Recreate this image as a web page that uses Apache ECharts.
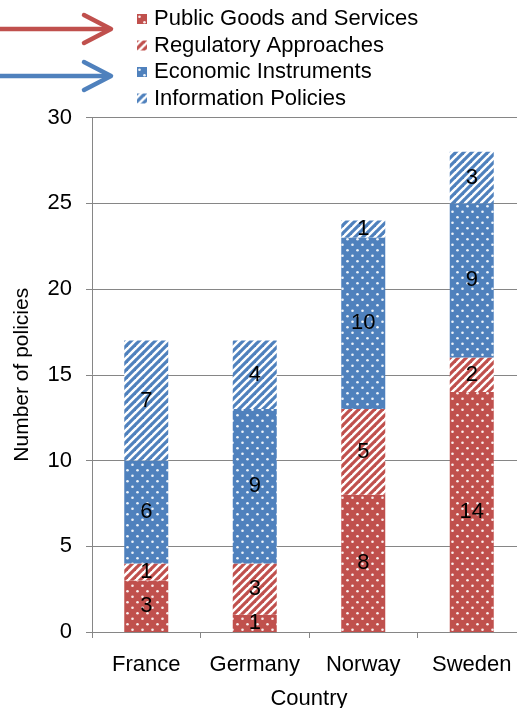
<!DOCTYPE html>
<html><head><meta charset="utf-8">
<script src="https://cdn.jsdelivr.net/npm/echarts@6/dist/echarts.min.js"></script>
<style>html,body{margin:0;padding:0;background:#fff}#c{width:517px;height:708px}</style>
</head><body><div id="c"></div>
<script>
const countries = ['France', 'Germany', 'Norway', 'Sweden'];
const seriesNames = ['Public Goods and Services', 'Regulatory Approaches', 'Economic Instruments', 'Information Policies'];
const publicGoods = [3, 1, 8, 14];
const regulatory = [1, 3, 5, 2];
const economic = [6, 9, 10, 9];
const information = [7, 4, 1, 3];
const yTicks = [0, 5, 10, 15, 20, 25, 30];

const RED = '#C0504D', BLUE = '#4F81BD';
function dots(col) {
  const c = document.createElement('canvas'); c.width = 10; c.height = 11;
  const g = c.getContext('2d');
  g.fillStyle = col; g.fillRect(0, 0, 10, 11);
  g.fillStyle = 'rgba(255,255,255,0.9)';
  [[2.5, 2.75], [7.5, 8.25]].forEach(([x, y]) => { g.beginPath(); g.arc(x, y, 1.3, 0, Math.PI * 2); g.fill(); });
  return { image: c, repeat: 'repeat' };
}
function stripes(col) {
  const c = document.createElement('canvas'); c.width = 8; c.height = 8;
  const g = c.getContext('2d');
  g.fillStyle = '#ffffff'; g.fillRect(0, 0, 8, 8);
  g.strokeStyle = col; g.lineWidth = 3.2; g.lineCap = 'square';
  [[-8, 8, 8, -8], [0, 8, 8, 0], [0, 16, 16, 0]].forEach(([a, b, cc, d]) => {
    g.beginPath(); g.moveTo(a, b); g.lineTo(cc, d); g.stroke();
  });
  return { image: c, repeat: 'repeat' };
}
const fills = [dots(RED), stripes(RED), dots(BLUE), stripes(BLUE)];
const values = [publicGoods, regulatory, economic, information];
const FONT = "'Liberation Sans', Arial, sans-serif";
const FS = 22;

const chart = echarts.init(document.getElementById('c'), null, { renderer: 'canvas' });
chart.setOption({
  animation: false,
  textStyle: { fontFamily: FONT },
  grid: { left: 92, top: 117.5, width: 434, height: 514.5, containLabel: false, outerBoundsMode: 'none' },
  legend: {
    orient: 'vertical', left: 132, top: 3,
    itemWidth: 10, itemHeight: 10, itemGap: 4.5,
    icon: 'rect',
    textStyle: { fontSize: FS, color: '#000', fontFamily: FONT, lineHeight: 22, padding: [0, 0, 0, 2] },
    data: seriesNames
  },
  xAxis: {
    type: 'category', data: countries,
    name: 'Country', nameLocation: 'middle', nameGap: 56,
    nameTextStyle: { fontSize: FS, color: '#000', fontFamily: FONT },
    axisLine: { lineStyle: { color: '#868686', width: 1 } },
    axisTick: { show: true, length: 6, lineStyle: { color: '#868686' } },
    axisLabel: { fontSize: FS, color: '#000', margin: 22, fontFamily: FONT, interval: 0, hideOverlap: false }
  },
  yAxis: {
    type: 'value', min: 0, max: 30, interval: 5,
    name: 'Number of policies', nameLocation: 'middle', nameGap: 59,
    nameTextStyle: { fontSize: 21, color: '#000', fontFamily: FONT },
    axisLine: { show: true, lineStyle: { color: '#868686', width: 1 } },
    axisTick: { show: true, length: 6, lineStyle: { color: '#868686' } },
    splitLine: { show: true, lineStyle: { color: '#868686', width: 1 } },
    axisLabel: { fontSize: FS, color: '#000', margin: 20, fontFamily: FONT,
      formatter: v => yTicks.includes(v) ? String(v) : '' }
  },
  series: seriesNames.map((n, i) => ({
    name: n, type: 'bar', stack: 'total', barWidth: 44,
    itemStyle: { color: fills[i] },
    label: { show: true, position: 'inside', color: '#000', fontSize: FS, fontFamily: FONT,
      textBorderWidth: 0 },
    data: values[i]
  })),
  graphic: [
    { type: 'polyline', shape: { points: [[0, 29], [110, 29]] }, style: { stroke: RED, lineWidth: 4.5 } },
    { type: 'polyline', shape: { points: [[84, 15], [111, 29], [84, 43]] }, style: { stroke: RED, lineWidth: 4.5, fill: null, lineCap: 'round', lineJoin: 'round' } },
    { type: 'polyline', shape: { points: [[0, 76], [110, 76]] }, style: { stroke: BLUE, lineWidth: 4.5 } },
    { type: 'polyline', shape: { points: [[84, 62], [111, 76], [84, 90]] }, style: { stroke: BLUE, lineWidth: 4.5, fill: null, lineCap: 'round', lineJoin: 'round' } }
  ]
});
</script></body></html>
